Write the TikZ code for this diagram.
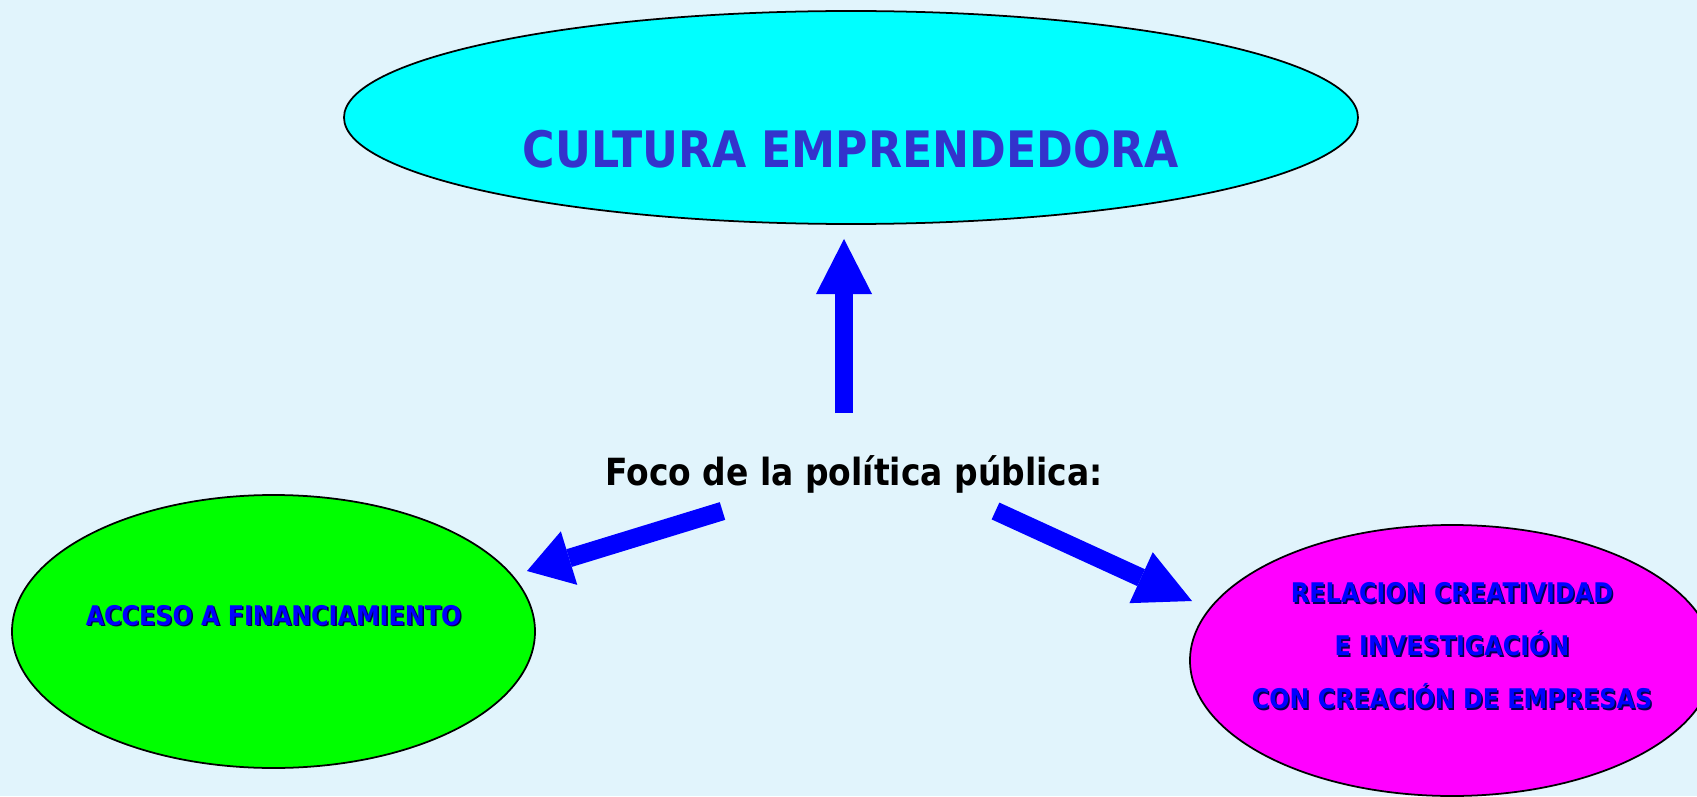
\documentclass[tikz,border=0pt]{standalone}
\usepackage{fontspec}
\setmainfont{DejaVu Sans}[FakeStretch=0.88]
\usetikzlibrary{shapes.geometric,arrows.meta}
\definecolor{bgc}{RGB}{225,244,252}
\definecolor{titlec}{RGB}{51,51,204}
\definecolor{arrc}{RGB}{0,0,255}
\definecolor{shadc}{RGB}{0,0,80}
\definecolor{cyanfill}{RGB}{0,255,255}
\definecolor{greenfill}{RGB}{0,255,0}
\definecolor{magentafill}{RGB}{255,0,255}
\newcommand{\shtxt}[1]{\leavevmode\rlap{\kern0.45pt\raisebox{-0.45pt}{\color{shadc}#1}}#1}
\newcommand{\flatbox}[2]{\raisebox{#1}[0pt][0pt]{\makebox[0pt]{#2}}}

\begin{document}
\begin{tikzpicture}[
bubble/.style={ellipse, draw=black, line width=0.5pt, inner sep=0pt},
smalltxt/.style={font=\bfseries\fontsize{7.7}{15.1}\selectfont, text=arrc},
bigarrow/.style={draw=arrc, line width=0.185cm, -{Triangle[width=0.56cm,length=#1,line width=0pt]}},
bigarrow/.default=0.44cm]
\path[use as bounding box, fill=bgc] (0,0) rectangle (16.97,7.96);
\clip (0,0) rectangle (16.97,7.96);

\node[bubble, fill=cyanfill, minimum width=10.14cm, minimum height=2.13cm,
  font=\bfseries\fontsize{14.3}{16}\selectfont, text=titlec] (cultura) at (8.51,6.785)
  {\flatbox{-0.505cm}{CULTURA EMPRENDEDORA}};
\node[font=\bfseries\fontsize{10.65}{13}\selectfont] (foco) at (8.54,3.22) {Foco de la política pública:};
\node[bubble, fill=greenfill, minimum width=5.23cm, minimum height=2.73cm, smalltxt] (acceso) at (2.735,1.645)
  {\flatbox{0.065cm}{\shtxt{ACCESO A FINANCIAMIENTO}}};
\node[bubble, fill=magentafill, minimum width=5.24cm, minimum height=2.71cm, smalltxt] (relacion) at (14.52,1.355)
  {\flatbox{2.4pt}{\begin{tabular}{@{}c@{}}
  \shtxt{RELACION CREATIVIDAD}\\
  \shtxt{E INVESTIGACIÓN}\\
  \shtxt{CON CREACIÓN DE EMPRESAS}
  \end{tabular}}};

\coordinate (up-tail) at (8.44,3.83);
\coordinate (up-tip) at (8.44,5.57);
\coordinate (left-tail) at (7.225,2.85);
\coordinate (left-tip) at (5.27,2.25);
\coordinate (right-tail) at (9.955,2.85);
\coordinate (right-tip) at (11.92,1.95);
\draw[bigarrow=0.55cm] (up-tail) -- (up-tip);
\draw[bigarrow] (left-tail) -- (left-tip);
\draw[bigarrow=0.56cm] (right-tail) -- (right-tip);
\end{tikzpicture}
\end{document}
